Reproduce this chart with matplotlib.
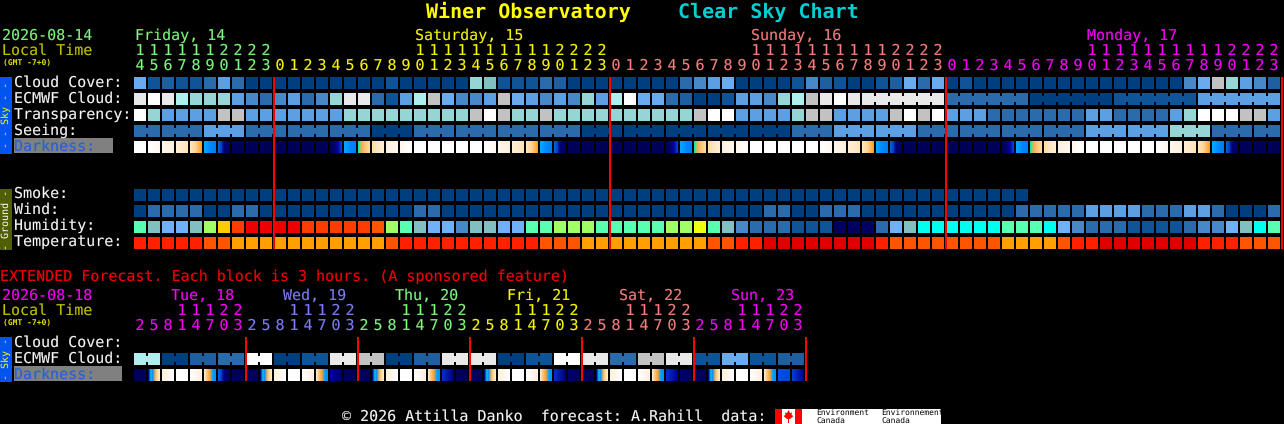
import numpy as np
import matplotlib
matplotlib.use("Agg")
import matplotlib.pyplot as plt
import matplotlib.colors as mcolors
import matplotlib.patheffects as pe
from matplotlib.patches import Polygon

FONT = "DejaVu Sans Mono"
plt.rcParams['text.hinting'] = 'no_hinting'
plt.rcParams['text.hinting_factor'] = 1

# ---------- data ----------
PALETTE = {
    'a': '#003f7f', 'b': '#0f5496', 'C': '#1f5f9f', 'c': '#2b6bab', 'd': '#4888c8',
    'e': '#5c9fe3', 'f': '#6aaaee', 'T': '#95d5d5', 't': '#80c0c0', 'U': '#aeeeee',
    'G': '#c2c2c2', 'W': '#e9e9e9', 'X': '#ffffff',
}
HUM_TEMP = {
    'M': '#58ffb0', 'K': '#a0ff66', 'Y': '#ffcc00', 'y': '#eeff10', 'O': '#ff3c00',
    'R': '#ee0000', 's': '#ff5500', 'Q': '#00ffee', 'N': '#000060', 'r': '#ff2000',
    'A': '#ffa000', 'D': '#e00000', 't': '#80c0c0', 'f': '#70b0f8', 'd': '#4888c8',
    'c': '#2b6bab', 'b': '#0f5496', 'a': '#003f7f', 'e': '#5c9fe3',
}
cloud_cover = "fbCbbcecaa" "aaaaaaaaba" "aaaaTtbbbc" "Caaaaaaaac" "defaaaabdC" "baabCfcfab" "aaaaaaaaaa" "aaaaadfGTe" "dC"
ecmwf_cloud = "WXWUTTTedc" "decdTWWcbe" "UGfddeGfed" "edTeUXffcC" "aabeedTUGW" "XWWWWWWWcc" "ccccaaaaaa" "bbbbbbeeee" "ee"
ecmwf_groups = [1] * 52 + [6, 6, 6, 6, 6]
transparency = "XTeeeeGGee" "eeeeeTTTTT" "TTTTGXGTTG" "TTTTTTTTTT" "GXXeeeeTGG" "eeeeGXGXee" "ecccccccee" "cccceTXXXG" "Ge"
seeing_values = "cceccc" "acccca" "aaaace" "ecccceeTcc"
seeing_groups = [2] + [3] * 26 + [2]
darkness = "WwvCSBbNNN" "NNNNnBMRru" "WWWWWwvCSB" "bNNNNNNNnB" "MRruWWWWWw" "vCSBbNNNNN" "NNnBMRruWW" "WWWwvCSBbN" "NN"
smoke = "a" * 64
wind = "accccaacca" "aaaaaaaaaa" "ccaaaaaaaa" "aaaaaaaaaa" "aaaaaccaac" "ccaaaaaaaa" "aaacccccee" "eeccceecaa" "ac"
humidity = "MtfftKYORR" "RROOOOOsKM" "tffdttffMM" "KKKMMMMMKK" "yMtdcccbbb" "NNNcftQQQQ" "QQMMMQfdcc" "cbbbbcddft" "QM"
temperature = "rrrrrssAAA" "AAAAAAAAsr" "rrrrrrrrrs" "ssAAAAAAAA" "AssrrDDDDD" "DDDrssssss" "ssAAAAsrrD" "DDDDDDrrrs" "ss"

ext_ecmwf = "UaCcXabWGaCWWabXWcGWbfbC"
ext_darkness = ["NXxWaYbN", "NXxWaYeN", "NXxWaYfN", "NXxWaYfg", "NXxWaYhg", "NXxWaYij"]

DARK_STOPS = {
    'W': ['#ffffff', '#ffffff'], 'w': ['#ffffff', '#fff8f0'], 'v': ['#fff8ee', '#fff0dc'],
    'C': ['#fff0d8', '#ffe4bc'], 'S': ['#ffe8c0', '#ffd090', '#ffa020'],
    'B': ['#00a8ff', '#0088ff', '#0080f0'], 'b': ['#0060e0', '#0040c0', '#000080', '#000060', '#000058'],
    'N': ['#000058', '#000058'], 'n': ['#000058', '#000070', '#0000a0', '#0040e0'],
    'M': ['#20e0b0', '#ffb050', '#ffc880', '#ffd8a0'], 'R': ['#ffdca8', '#fff0d8'],
    'r': ['#fff0d8', '#fff8ee'], 'u': ['#fff8ee', '#ffffff'],
    'X': ['#000080', '#00c0f0', '#0090ff', '#ffb050', '#ffd8a0', '#ffecc8'],
    'x': ['#fff0d8', '#ffffff'], 'a': ['#ffffff', '#fff0e0'],
    'Y': ['#ffe8c8', '#ffc070', '#ffa030', '#00a0ff', '#0090ff'],
    'e': ['#0000a8', '#000060'], 'f': ['#0030c0', '#000070'], 'g': ['#000070', '#000058'],
    'h': ['#0030c8', '#000090'], 'i': ['#0050e0', '#0048d8'], 'j': ['#0040c8', '#000090'],
}

main_start_hour = 14
ext_hours = [2, 5, 8, 11, 14, 17, 20, 23]
main_days = [("Friday, 14", 0, '#80ff80'), ("Saturday, 15", 20, '#ffff00'),
             ("Sunday, 16", 44, '#ff8080'), ("Monday, 17", 68, '#ff00ff')]
ext_days = [("Tue, 18", '#ff00ff'), ("Wed, 19", '#8080ff'), ("Thu, 20", '#80ff80'),
            ("Fri, 21", '#ffff00'), ("Sat, 22", '#ff8080'), ("Sun, 23", '#ff00ff')]

# ---------- layout ----------
X0, PITCH, CELL = 134, 14, 12
fig = plt.figure(figsize=(12.84, 4.24), dpi=100, facecolor='black')
ax = fig.add_axes([0, 0, 1, 1])
ax.set_facecolor('black')
ax.axis('off')


def text(x, y, s, color='white', size=10.8, bg='black', **kw):
    kw.setdefault('family', FONT)
    t = ax.text(x, y, s, color=color, fontsize=size, va='baseline', zorder=5, **kw)
    if bg:
        # slightly thin the strokes so the glyphs look like the light bitmap font
        t.set_path_effects([pe.Normal(), pe.Stroke(linewidth=0.12, foreground=bg)])


def block(x, y, w, h, color, z=2):
    ax.bar(x, h, width=w, bottom=y, align='edge', color=color, linewidth=0, zorder=z)


def row(codes, y, palette, groups=None):
    xs = [X0 + PITCH * i for i in range(len(codes))]
    ax.bar(xs, CELL, width=CELL, bottom=y, align='edge',
           color=[palette[c] for c in codes], linewidth=0, zorder=2)
    if groups:
        i = 0
        for g in groups:
            for j in range(i, i + g - 1):
                block(X0 + PITCH * j + CELL, y + 3, PITCH - CELL, 6, palette[codes[j]])
            i += g


def dark_row(codes, y):
    n = len(codes)
    w = PITCH * n - (PITCH - CELL)
    img = np.zeros((1, w, 3))
    for i, c in enumerate(codes):
        stops = np.array([mcolors.to_rgb(s) for s in DARK_STOPS[c]])
        pos = np.linspace(0, 1, len(stops))
        t = np.linspace(0, 1, CELL)
        for k in range(3):
            img[0, PITCH * i:PITCH * i + CELL, k] = np.interp(t, pos, stops[:, k])
    ax.imshow(img, extent=(X0, X0 + w, y + CELL, y), aspect='auto', interpolation='nearest', zorder=2)


# main rows
row(cloud_cover, 77, PALETTE)
row(ecmwf_cloud, 93, PALETTE, ecmwf_groups)
row(transparency, 109, PALETTE)
seeing = "".join(v * g for v, g in zip(seeing_values, seeing_groups))
row(seeing, 125, PALETTE, seeing_groups)
dark_row(darkness, 141)
row(smoke, 189, HUM_TEMP)
row(wind, 205, HUM_TEMP)
row(humidity, 221, HUM_TEMP)
row(temperature, 237, HUM_TEMP)

# extended rows
ext_ecmwf_cols = "".join(c * 2 for c in ext_ecmwf)
row(ext_ecmwf_cols, 353, PALETTE, [2] * 24)
dark_row("".join(ext_darkness), 369)

# red day separators
for i in [10, 34, 58, 82]:
    block(X0 + PITCH * i - 1, 77, 2, 172, '#ff0000', 3)
for k in range(1, 7):
    block(X0 + PITCH * 8 * k - 1, 337, 2, 44, '#ff0000', 3)

# title
text(426, 18, "Winer Observatory", '#ffff00', 14.4, bg=None, fontweight='bold')
text(678, 18, "Clear Sky Chart", '#00d0d0', 14.4, bg=None, fontweight='bold')

# header, main
text(2, 40, "2026-08-14", '#80ff80')
text(2, 55, "Local Time", '#c8c800')
text(3, 65, "(GMT -7+0)", '#e0e000', 6, bg=None, fontweight='bold')
for label, col, color in main_days:
    text(X0 + PITCH * col + 1, 40, label, color)
day_idx = 0
for i in range(len(cloud_cover)):
    h = (main_start_hour + i) % 24
    while day_idx + 1 < len(main_days) and i >= [10, 34, 58][day_idx]:
        day_idx += 1
    color = main_days[day_idx][2]
    cx = X0 + PITCH * i + 6
    if h >= 10:
        text(cx, 55, str(h // 10), color, ha='center')
    text(cx, 70, str(h % 10), color, ha='center')

# labels, main
for y, s in [(87, "Cloud Cover:"), (103, "ECMWF Cloud:"), (119, "Transparency:"), (135, "Seeing:"),
             (198, "Smoke:"), (214, "Wind:"), (230, "Humidity:"), (246, "Temperature:")]:
    text(14, y, s)
block(14, 138, 99, 15, '#808080')
text(14, 151, "Darkness:", '#2060e0', bg='#808080')

# side strips
block(0, 77, 12, 77, '#0055ee')
block(0, 189, 12, 61, '#506000')
block(0, 337, 12, 45, '#0055ee')
ax.text(6, 115, "- - Sky - -", color='#ffff00', fontsize=7, rotation=90, ha='center', va='center', family=FONT)
ax.text(6, 219.5, "- Ground -", color='white', fontsize=7, rotation=90, ha='center', va='center', family=FONT)
ax.text(6, 359, "- Sky -", color='#ffff00', fontsize=7, rotation=90, ha='center', va='center', family=FONT)

# extended header
text(0, 281, "EXTENDED Forecast. Each block is 3 hours. (A sponsored feature)", '#ff0000')
text(2, 300, "2026-08-18", '#ff00ff')
text(2, 315, "Local Time", '#c8c800')
text(3, 325, "(GMT -7+0)", '#e0e000', 6, bg=None, fontweight='bold')
for k, (label, color) in enumerate(ext_days):
    text(171 + PITCH * 8 * k, 300, label, color)
    for j, h in enumerate(ext_hours):
        cx = X0 + PITCH * (8 * k + j) + 6
        if h >= 10:
            text(cx, 315, str(h // 10), color, ha='center')
        text(cx, 330, str(h % 10), color, ha='center')
text(14, 347, "Cloud Cover:")
text(14, 363, "ECMWF Cloud:")
block(14, 366, 108, 15, '#808080')
text(14, 379, "Darkness:", '#2060e0', bg='#808080')

# footer
text(342, 421, "\u00a9 2026 Attilla Danko  forecast: A.Rahill  data:")
block(775, 409, 166, 15, 'white')
block(775, 409, 7, 15, '#ff0000')
block(795, 409, 7, 15, '#ff0000')
ax.add_patch(Polygon([(788.5, 410), (790, 413), (792, 412.5), (791.5, 415), (793.5, 416), (790, 419),
                      (789, 419), (789, 423), (788, 423), (788, 419), (787, 419), (783.5, 416),
                      (785.5, 415), (785, 412.5), (787, 413)], closed=True, facecolor='#ff0000',
                     edgecolor='none', zorder=4))
text(816, 415, "Environment", 'black', 5.5, bg=None)
text(816, 423, "Canada", 'black', 5.5, bg=None)
text(881, 415, "Environnement", 'black', 5.5, bg=None)
text(881, 423, "Canada", 'black', 5.5, bg=None)

ax.set_xlim(0, 1284)
ax.set_ylim(424, 0)
fig.savefig("out.png", dpi=100, facecolor='black')
